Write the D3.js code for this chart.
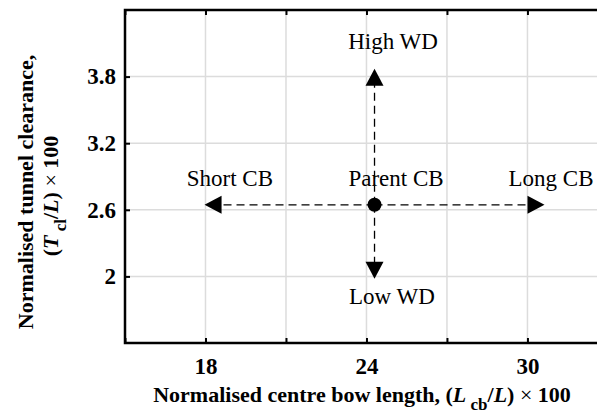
<!DOCTYPE html>
<html><head><meta charset="utf-8">
<script src="https://cdn.jsdelivr.net/npm/d3@7"></script>
<style>body{margin:0;background:#fff}svg{display:block}</style>
</head><body>
<svg id="c" width="597" height="416"></svg>
<script>
// ---- data ----
const xTicks = [15, 18, 21, 24, 27, 30, 33];
const xTickLabels = ["", "18", "", "24", "", "30", ""];
const yTicks = [2, 2.6, 3.2, 3.8];
const yTickLabels = ["2", "2.6", "3.2", "3.8"];
const parent = {name: "Parent CB", x: 24.3, y: 2.645};
const variantNames = ["High WD", "Low WD", "Short CB", "Long CB"];
const variantX = [24.3, 24.3, 18.3, 30.3];
const variantY = [3.79, 2.06, 2.645, 2.645];
const variantShape = ["up", "down", "left", "right"];
const labelNames = ["Short CB", "Parent CB", "Long CB", "High WD", "Low WD"];
const labelX = [18.91, 25.1, 30.88, 24.99, 24.95];
const labelY = [2.814, 2.814, 2.814, 4.05, 1.751];

// ---- layout ----
const svg = d3.select("#c");
const L = 125, T = 10, B = 343;
const x = d3.scaleLinear().domain([15, 33]).range([L, L + 18 * 26.83]);
const y = d3.scaleLinear().domain([1.4, 4.4]).range([B, T]);
const serif = "'Liberation Serif','Times New Roman',serif";

// grid
const g = svg.append("g");
g.selectAll("line.gx").data(xTicks.slice(1)).join("line")
  .attr("x1", d => x(d)).attr("x2", d => x(d)).attr("y1", T).attr("y2", B)
  .attr("stroke", "#dcdcdc").attr("stroke-width", 1.5);
g.selectAll("line.gy").data(yTicks).join("line")
  .attr("x1", L).attr("x2", 597).attr("y1", d => y(d)).attr("y2", d => y(d))
  .attr("stroke", "#dcdcdc").attr("stroke-width", 1.5);

// axes
const xb = d3.axisBottom(x).tickValues(xTicks).tickSize(-5).tickPadding(15)
  .tickFormat((d, i) => xTickLabels[i]);
const xt = d3.axisTop(x).tickValues(xTicks).tickSize(-5).tickFormat("");
const yl = d3.axisLeft(y).tickValues(yTicks).tickSize(-5).tickPadding(9)
  .tickFormat((d, i) => yTickLabels[i]);
function style(sel) {
  sel.select(".domain").remove();
  sel.selectAll(".tick line").attr("stroke", "#000").attr("stroke-width", 2);
  sel.selectAll(".tick text").attr("fill", "#000")
    .style("font-family", serif).style("font-weight", "bold").style("font-size", "23px");
}
svg.append("g").attr("transform", `translate(0,${B})`).call(xb).call(style);
svg.append("g").attr("transform", `translate(0,${T})`).call(xt).call(style);
svg.append("g").attr("transform", `translate(${L},0)`).call(yl).call(style);
svg.append("path").attr("d", `M597,${T}H${L}V${B}H597`).attr("fill", "none")
  .attr("stroke", "#000").attr("stroke-width", 2.5);

// dashed lines
svg.selectAll("line.dash").data(variantNames).join("line")
  .attr("x1", x(parent.x)).attr("y1", y(parent.y))
  .attr("x2", (d, i) => x(variantX[i])).attr("y2", (d, i) => y(variantY[i]))
  .attr("stroke", "#000").attr("stroke-width", 1.3).attr("stroke-dasharray", "8,5");

// markers
const tri = {
  up: "M0,-9L9,8L-9,8Z", down: "M0,9L9,-8L-9,-8Z",
  left: "M-9,0L8,-9L8,9Z", right: "M9,0L-8,-9L-8,9Z"
};
svg.selectAll("path.mk").data(variantNames).join("path")
  .attr("d", (d, i) => tri[variantShape[i]])
  .attr("transform", (d, i) => `translate(${x(variantX[i])},${y(variantY[i])})`)
  .attr("fill", "#000");
svg.append("circle").attr("cx", x(parent.x)).attr("cy", y(parent.y)).attr("r", 7).attr("fill", "#000");

// labels
svg.selectAll("text.lab").data(labelNames).join("text")
  .attr("x", (d, i) => x(labelX[i])).attr("y", (d, i) => y(labelY[i]))
  .attr("text-anchor", "middle").style("font-family", serif).style("font-size", "23px")
  .attr("fill", "#000").text(d => d);

// axis titles
const xt2 = svg.append("text").attr("x", 362).attr("y", 402).attr("text-anchor", "middle")
  .style("font-family", serif).style("font-size", "22px").style("font-weight", "bold");
xt2.append("tspan").text("Normalised centre bow length, (");
xt2.append("tspan").style("font-style", "italic").text("L");
xt2.append("tspan").attr("dy", 8).style("font-size", "17px").text(" cb");
xt2.append("tspan").attr("dy", -8).text("/");
xt2.append("tspan").style("font-style", "italic").text("L");
xt2.append("tspan").text(") ");
xt2.append("tspan").style("font-weight", "normal").text("×");
xt2.append("tspan").text(" 100");

const yt = svg.append("g").attr("transform", "translate(33,192) rotate(-90)");
yt.append("text").attr("x", 0).attr("y", 0).attr("text-anchor", "middle")
  .style("font-family", serif).style("font-size", "22px").style("font-weight", "bold")
  .text("Normalised tunnel clearance,");
const yt2 = yt.append("text").attr("x", -4).attr("y", 25).attr("text-anchor", "middle")
  .style("font-family", serif).style("font-size", "22px").style("font-weight", "bold");
yt2.append("tspan").text("(");
yt2.append("tspan").style("font-style", "italic").text("T");
yt2.append("tspan").attr("dy", 8).style("font-size", "17px").text(" cl");
yt2.append("tspan").attr("dy", -8).text("/");
yt2.append("tspan").style("font-style", "italic").text("L");
yt2.append("tspan").text(") ");
yt2.append("tspan").style("font-weight", "normal").text("×");
yt2.append("tspan").text(" 100");
</script>
</body></html>
